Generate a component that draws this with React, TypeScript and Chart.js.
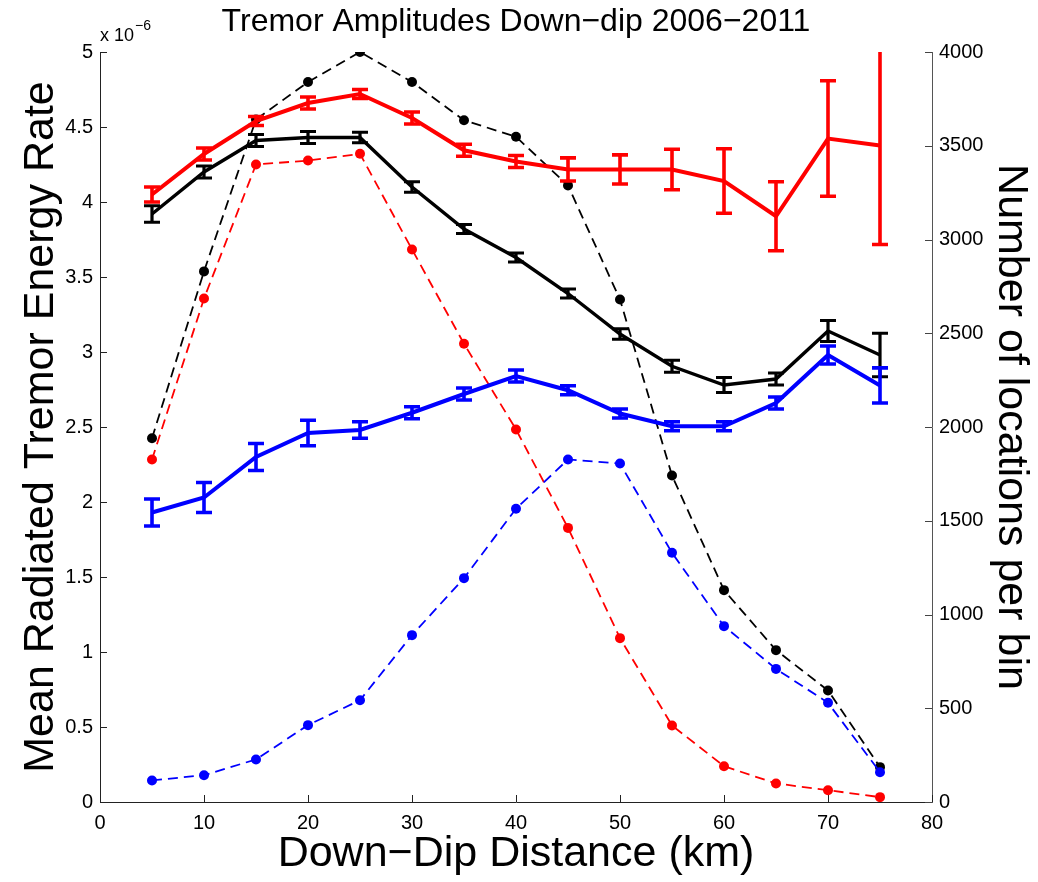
import React, { useEffect, useRef } from "react";
import { Chart, registerables } from "chart.js";

Chart.register(...registerables);

const distances = [5, 10, 15, 20, 25, 30, 35, 40, 45, 50, 55, 60, 65, 70, 75];

// Mean radiated tremor energy rate (x 10^-6)
const blackMean = [3.92, 4.2, 4.41, 4.43, 4.43, 4.1, 3.82, 3.63, 3.39, 3.12, 2.905, 2.78, 2.82, 3.14, 2.98];
const blackErr = [0.055, 0.04, 0.04, 0.04, 0.035, 0.035, 0.03, 0.03, 0.03, 0.035, 0.04, 0.05, 0.04, 0.07, 0.145];
const redMean = [4.05, 4.32, 4.54, 4.66, 4.72, 4.56, 4.345, 4.27, 4.217, 4.217, 4.217, 4.14, 3.905, 4.423, 4.377];
const redErr = [0.05, 0.04, 0.03, 0.04, 0.03, 0.04, 0.04, 0.04, 0.077, 0.097, 0.135, 0.215, 0.23, 0.385, 0.66];
const blueMean = [1.93, 2.03, 2.3, 2.46, 2.48, 2.595, 2.72, 2.84, 2.745, 2.59, 2.505, 2.505, 2.66, 2.98, 2.777];
const blueErr = [0.09, 0.1, 0.09, 0.085, 0.055, 0.04, 0.04, 0.04, 0.03, 0.03, 0.03, 0.03, 0.04, 0.06, 0.117];

// Number of locations per bin
const blackCount = [1940, 2830, 3640, 3840, 4000, 3840, 3636, 3548, 3288, 2680, 1741, 1130, 810, 595, 186];
const redCount = [1827, 2685, 3400, 3421, 3457, 2947, 2444, 1987, 1462, 874, 408, 191, 99, 63, 26];
const blueCount = [115, 143, 227, 410, 543, 890, 1194, 1564, 1827, 1805, 1329, 938, 710, 529, 159];

const titleText = "Tremor Amplitudes Down\u2212dip 2006\u22122011";
const xTitle = "Down\u2212Dip Distance (km)";
const yTitle = "Mean Radiated Tremor Energy Rate";
const y2Title = "Number of locations per bin";

const FONT = "'Liberation Sans', Arial, Helvetica, sans-serif";

const toPts = (ys: number[]) => distances.map((x, i) => ({ x, y: ys[i] }));

const errorSeries = [
  { mean: blackMean, err: blackErr, color: "#000000", width: 3.2 },
  { mean: redMean, err: redErr, color: "#ff0000", width: 3.6 },
  { mean: blueMean, err: blueErr, color: "#0000ff", width: 3.6 },
];

const plainLabel = (v: any) => String(Math.round(Number(v) * 1000) / 1000);

const decorPlugin = {
  id: "decor",
  beforeDatasetsDraw(chart: any) {
    const ctx = chart.ctx;
    const { x, y, y2 } = chart.scales;
    const area = chart.chartArea;
    ctx.save();
    ctx.strokeStyle = "#222";
    ctx.lineWidth = 1;
    const tl = 7;
    x.ticks.forEach((t: any) => {
      const px = Math.round(x.getPixelForValue(t.value)) + 0.5;
      ctx.beginPath();
      ctx.moveTo(px, area.bottom);
      ctx.lineTo(px, area.bottom - tl);
      ctx.stroke();
    });
    y.ticks.forEach((t: any) => {
      const py = Math.round(y.getPixelForValue(t.value)) + 0.5;
      ctx.beginPath();
      ctx.moveTo(area.left, py);
      ctx.lineTo(area.left + tl, py);
      ctx.stroke();
    });
    ctx.strokeStyle = "#444";
    y2.ticks.forEach((t: any) => {
      const py = Math.round(y2.getPixelForValue(t.value)) + 0.5;
      ctx.beginPath();
      ctx.moveTo(area.right, py);
      ctx.lineTo(area.right - tl, py);
      ctx.stroke();
    });
    ctx.restore();
  },
  afterDatasetsDraw(chart: any) {
    const ctx = chart.ctx;
    const { x, y } = chart.scales;
    const area = chart.chartArea;
    ctx.save();
    ctx.beginPath();
    ctx.rect(area.left, area.top, area.right - area.left, area.bottom - area.top);
    ctx.clip();
    const cap = 8;
    errorSeries.forEach((s) => {
      ctx.strokeStyle = s.color;
      ctx.lineWidth = s.width;
      ctx.lineCap = "butt";
      distances.forEach((d, i) => {
        const px = x.getPixelForValue(d);
        const top = y.getPixelForValue(s.mean[i] + s.err[i]);
        const bot = y.getPixelForValue(s.mean[i] - s.err[i]);
        ctx.beginPath();
        ctx.moveTo(px, top);
        ctx.lineTo(px, bot);
        ctx.moveTo(px - cap, top);
        ctx.lineTo(px + cap, top);
        ctx.moveTo(px - cap, bot);
        ctx.lineTo(px + cap, bot);
        ctx.stroke();
      });
    });
    ctx.restore();
  },
  afterDraw(chart: any) {
    const ctx = chart.ctx;
    const area = chart.chartArea;
    ctx.save();
    ctx.fillStyle = "#000";
    ctx.textAlign = "center";
    ctx.textBaseline = "middle";
    ctx.font = `32px ${FONT}`;
    ctx.fillText(titleText, (area.left + area.right) / 2, 22);
    ctx.textAlign = "left";
    ctx.textBaseline = "alphabetic";
    ctx.font = `18px ${FONT}`;
    ctx.fillText("x 10", area.left, 41);
    const w = ctx.measureText("x 10").width;
    ctx.font = `14px ${FONT}`;
    ctx.fillText("\u22126", area.left + w + 1, 30);
    ctx.restore();
  },
};

export default function App() {
  const canvasRef = useRef<HTMLCanvasElement | null>(null);

  useEffect(() => {
    if (!canvasRef.current) return;
    const solid = (label: string, data: number[], color: string, width: number) => ({
      label,
      data: toPts(data),
      yAxisID: "y",
      borderColor: color,
      backgroundColor: color,
      borderWidth: width,
      pointRadius: 0,
      tension: 0,
      order: 0,
    });
    const dashed = (label: string, data: number[], color: string) => ({
      label,
      data: toPts(data),
      yAxisID: "y2",
      borderColor: color,
      backgroundColor: color,
      pointBackgroundColor: color,
      pointBorderColor: color,
      borderWidth: 1.8,
      borderDash: [10, 6],
      pointRadius: 5,
      pointBorderWidth: 0,
      tension: 0,
      order: 5,
    });

    const tickFont = { family: FONT, size: 20 };
    const axisFont = { family: FONT, size: 43 };

    const chart = new Chart(canvasRef.current, {
      type: "line",
      data: {
        datasets: [
          solid("Black mean", blackMean, "#000000", 3.4),
          solid("Red mean", redMean, "#ff0000", 4),
          solid("Blue mean", blueMean, "#0000ff", 4),
          dashed("Blue count", blueCount, "#0000ff"),
          dashed("Red count", redCount, "#ff0000"),
          dashed("Black count", blackCount, "#000000"),
        ] as any,
      },
      options: {
        animation: false,
        responsive: true,
        maintainAspectRatio: false,
        layout: { padding: { top: 52, left: 0, right: 0, bottom: 0 } },
        plugins: {
          legend: { display: false },
          tooltip: { enabled: false },
          title: { display: false },
        },
        scales: {
          x: {
            type: "linear",
            min: 0,
            max: 80,
            ticks: { stepSize: 10, color: "#000", font: tickFont, padding: 9, callback: plainLabel },
            grid: { display: false, drawTicks: false },
            border: { display: true, color: "#222", width: 1 },
            title: { display: true, text: xTitle, color: "#000", font: axisFont, padding: { top: 0, bottom: 2 } },
            afterFit: (s: any) => { s.height = 80; },
          },
          y: {
            type: "linear",
            position: "left",
            min: 0,
            max: 5,
            ticks: { stepSize: 0.5, color: "#000", font: tickFont, padding: 7, callback: plainLabel },
            grid: { display: false, drawTicks: false },
            border: { display: true, color: "#222", width: 1 },
            title: { display: true, text: yTitle, color: "#000", font: axisFont, padding: { top: 15, bottom: 0 } },
            afterFit: (s: any) => { s.width = 100; },
          },
          y2: {
            type: "linear",
            position: "right",
            min: 0,
            max: 4000,
            ticks: { stepSize: 500, color: "#000", font: tickFont, padding: 7, callback: plainLabel },
            grid: { display: false, drawTicks: false },
            border: { display: true, color: "#555", width: 1 },
            title: { display: true, text: y2Title, color: "#000", font: axisFont, padding: { top: 1, bottom: 0 } },
            afterFit: (s: any) => { s.width = 106; },
          },
        },
      } as any,
      plugins: [decorPlugin],
    });
    return () => chart.destroy();
  }, []);

  return (
    <div style={{ position: "absolute", left: 0, top: 0, width: 1038, height: 882, background: "#fff" }}>
      <canvas ref={canvasRef} />
    </div>
  );
}
